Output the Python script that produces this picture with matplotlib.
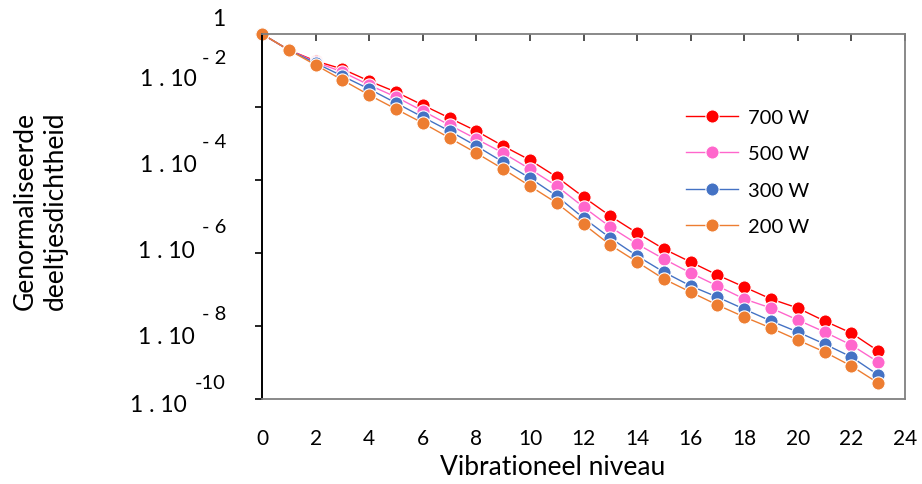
import matplotlib
matplotlib.use("Agg")
import matplotlib.pyplot as plt

# Vibrationeel niveau
niveau = list(range(24))

dens_700 = [1, 0.365, 0.182, 0.110, 0.0515, 0.0258, 0.0113, 5.0e-3, 2.2e-3, 8.55e-4,
            3.53e-4, 1.21e-4, 3.42e-5, 1.03e-5, 3.53e-6, 1.29e-6, 5.67e-7, 2.49e-7,
            1.17e-7, 5.5e-8, 3.1e-8, 1.37e-8, 6.4e-9, 2.07e-9]
dens_500 = [1, 0.365, 0.171, 0.091, 0.040, 0.0188, 7.8e-3, 3.2e-3, 1.33e-3, 5.5e-4,
            2.0e-4, 6.85e-5, 1.82e-5, 5.15e-6, 1.77e-6, 6.85e-7, 2.83e-7, 1.25e-7,
            5.5e-8, 3.1e-8, 1.46e-8, 6.85e-9, 3.0e-9, 1.03e-9]
dens_300 = [1, 0.365, 0.160, 0.0706, 0.0311, 0.0129, 5.3e-3, 2.2e-3, 8.55e-4, 3.1e-4,
            1.13e-4, 3.65e-5, 9.1e-6, 2.58e-6, 8.3e-7, 3.0e-7, 1.25e-7, 6.2e-8,
            2.9e-8, 1.37e-8, 6.85e-9, 3.2e-9, 1.42e-9, 4.55e-10]
dens_200 = [1, 0.365, 0.142, 0.055, 0.0213, 8.8e-3, 3.65e-3, 1.42e-3, 5.5e-4, 2.0e-4,
            6.85e-5, 2.34e-5, 6.2e-6, 1.66e-6, 5.7e-7, 1.94e-7, 8.5e-8, 3.76e-8,
            1.77e-8, 8.8e-9, 4.13e-9, 1.94e-9, 8.0e-10, 2.74e-10]

labels = ["700 W", "500 W", "300 W", "200 W"]
series = [dens_700, dens_500, dens_300, dens_200]
colors = ["#FF0000", "#FF66CC", "#4472C4", "#ED7D31"]

x_ticks = list(range(0, 25, 2))
y_ticks = [1, 1e-2, 1e-4, 1e-6, 1e-8, 1e-10]
exponents = ["- 2", "- 4", "- 6", "- 8", "-10"]

plt.rcParams["font.family"] = ["Lato", "DejaVu Sans"]

W, H = 922, 485
fig = plt.figure(figsize=(W / 100, H / 100), dpi=100)
ax = fig.add_axes([262 / W, 1 - 400 / H, (905 - 262) / W, (400 - 35) / H])

for lab, vals, col in zip(labels, series, colors):
    ax.plot(niveau, vals, color=col, lw=1.0, marker="o", ms=9.5,
            markeredgecolor="white", markeredgewidth=0.8, label=lab, clip_on=False)

ax.set_yscale("log")
ax.set_xlim(0, 24)
ax.set_ylim(1e-10, 1)
ax.set_xticks(x_ticks)
ax.set_yticks(y_ticks)
ax.minorticks_off()
ax.set_yticklabels([])

ax.tick_params(axis="x", top=True, bottom=False, direction="in", length=5,
               width=1.2, color="#333333", labelsize=15, pad=21)
ax.tick_params(axis="y", left=True, direction="out", length=5, width=1.2,
               color="black")

ax.spines["left"].set_color("black")
ax.spines["left"].set_linewidth(1.4)
for s in ["top", "right", "bottom"]:
    ax.spines[s].set_color("#808080")
    ax.spines[s].set_linewidth(1.3)

fig.text(553 / W, 1 - 468 / H, "Vibrationeel niveau", ha="center", va="center",
         fontsize=19)

# handmatige y-aslabels zoals in het origineel
fig.text(225 / W, 1 - 20 / H, "1", ha="right", va="center", fontsize=16.5)
base_pos = [(197, 80), (197, 165), (195, 252), (195, 338), (187, 405)]
exp_pos = [(226, 58), (226, 142), (226, 228), (226, 315), (226, 384)]
for (bx, by), (ex, ey), e in zip(base_pos, exp_pos, exponents):
    fig.text(bx / W, 1 - by / H, "1 . 10", ha="right", va="center", fontsize=16.5)
    fig.text(ex / W, 1 - ey / H, e, ha="right", va="center", fontsize=14.5)

fig.text(40 / W, 1 - 211 / H, "Genormaliseerde\ndeeltjesdichtheid", rotation=90,
         ha="center", va="center", fontsize=19, linespacing=1.25, multialignment="center")

ax.legend(loc="upper left", bbox_to_anchor=(668 / W, 1 - 92 / H),
          bbox_transform=fig.transFigure, frameon=False, fontsize=14.5,
          handlelength=2.6, labelspacing=0.95, handletextpad=0.45)

fig.savefig("out.png", dpi=100)
